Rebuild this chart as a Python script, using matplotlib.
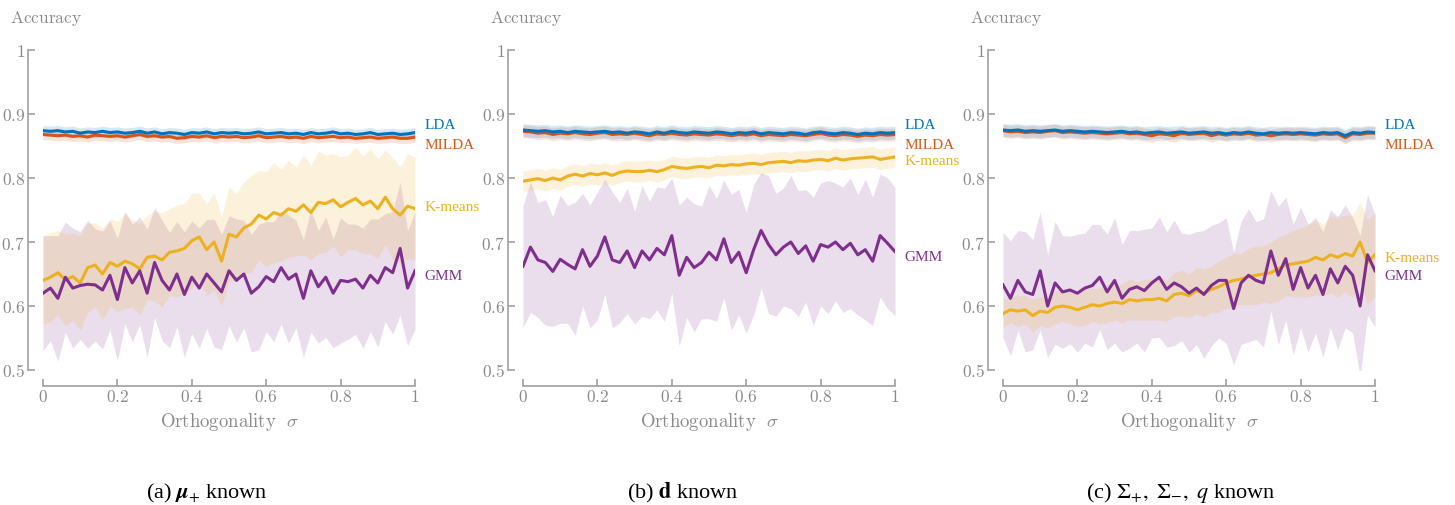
import numpy as np
import matplotlib
matplotlib.use("Agg")
import matplotlib.pyplot as plt

plt.rcParams['font.family'] = ['Liberation Serif', 'DejaVu Serif']
plt.rcParams['mathtext.fontset'] = 'cm'

# ---- data (51 points, sigma step 0.02) ----
lda_a = [0.874, 0.873, 0.874, 0.872, 0.873, 0.870, 0.872, 0.871, 0.873, 0.871,
         0.872, 0.870, 0.871, 0.873, 0.870, 0.872, 0.869, 0.871, 0.870, 0.868,
         0.871, 0.870, 0.872, 0.869, 0.871, 0.870, 0.871, 0.869, 0.870, 0.872,
         0.869, 0.870, 0.871, 0.869, 0.870, 0.868, 0.871, 0.869, 0.870, 0.872,
         0.869, 0.870, 0.868, 0.869, 0.871, 0.868, 0.869, 0.870, 0.868, 0.869,
         0.871]
milda_a = [0.868, 0.867, 0.866, 0.867, 0.865, 0.866, 0.864, 0.867, 0.866, 0.865,
           0.866, 0.864, 0.866, 0.868, 0.865, 0.866, 0.864, 0.865, 0.862, 0.863,
           0.865, 0.864, 0.866, 0.863, 0.865, 0.864, 0.865, 0.863, 0.864, 0.866,
           0.863, 0.864, 0.865, 0.863, 0.864, 0.862, 0.865, 0.863, 0.864, 0.865,
           0.863, 0.864, 0.862, 0.863, 0.864, 0.862, 0.863, 0.864, 0.862, 0.862,
           0.864]
kmeans_a = [0.640, 0.645, 0.652, 0.641, 0.646, 0.636, 0.660, 0.664, 0.650, 0.668,
            0.662, 0.670, 0.666, 0.658, 0.676, 0.678, 0.672, 0.684, 0.686, 0.690,
            0.702, 0.708, 0.688, 0.700, 0.670, 0.712, 0.708, 0.722, 0.728, 0.742,
            0.736, 0.746, 0.742, 0.752, 0.748, 0.758, 0.746, 0.762, 0.760, 0.766,
            0.755, 0.762, 0.768, 0.758, 0.764, 0.752, 0.770, 0.752, 0.742, 0.756,
            0.752]
kmeans_a_sd = [0.068, 0.070, 0.066, 0.072, 0.068, 0.074, 0.070, 0.066, 0.072, 0.068,
               0.070, 0.074, 0.068, 0.072, 0.066, 0.070, 0.074, 0.068, 0.072, 0.070,
               0.074, 0.068, 0.072, 0.076, 0.070, 0.074, 0.068, 0.072, 0.076, 0.070,
               0.074, 0.078, 0.072, 0.076, 0.070, 0.078, 0.074, 0.080, 0.076, 0.072,
               0.078, 0.074, 0.080, 0.076, 0.082, 0.078, 0.074, 0.080, 0.076, 0.082,
               0.080]
gmm_a = [0.620, 0.628, 0.612, 0.645, 0.628, 0.632, 0.634, 0.633, 0.625, 0.648,
         0.610, 0.660, 0.636, 0.655, 0.620, 0.668, 0.640, 0.625, 0.650, 0.618,
         0.645, 0.628, 0.650, 0.636, 0.622, 0.655, 0.640, 0.650, 0.620, 0.630,
         0.646, 0.638, 0.660, 0.642, 0.650, 0.612, 0.655, 0.630, 0.645, 0.620,
         0.640, 0.638, 0.642, 0.628, 0.648, 0.636, 0.660, 0.652, 0.690, 0.628,
         0.655]
gmm_a_sd = [0.090, 0.082, 0.098, 0.086, 0.094, 0.084, 0.100, 0.088, 0.092, 0.085,
            0.096, 0.088, 0.092, 0.084, 0.100, 0.086, 0.094, 0.090, 0.082, 0.098,
            0.088, 0.094, 0.085, 0.100, 0.090, 0.086, 0.096, 0.084, 0.092, 0.098,
            0.086, 0.094, 0.088, 0.100, 0.084, 0.092, 0.096, 0.088, 0.094, 0.085,
            0.098, 0.090, 0.086, 0.094, 0.088, 0.100, 0.084, 0.096, 0.104, 0.090,
            0.092]

lda_b = [0.875, 0.874, 0.873, 0.874, 0.872, 0.873, 0.871, 0.873, 0.872, 0.871,
         0.872, 0.873, 0.871, 0.872, 0.870, 0.872, 0.871, 0.869, 0.872, 0.870,
         0.873, 0.871, 0.870, 0.872, 0.871, 0.870, 0.872, 0.871, 0.869, 0.871,
         0.870, 0.872, 0.869, 0.871, 0.870, 0.869, 0.871, 0.870, 0.868, 0.871,
         0.872, 0.870, 0.869, 0.871, 0.870, 0.868, 0.870, 0.869, 0.871, 0.870,
         0.871]
milda_b = [0.873, 0.872, 0.870, 0.871, 0.868, 0.870, 0.869, 0.871, 0.869, 0.868,
           0.870, 0.871, 0.868, 0.869, 0.868, 0.870, 0.868, 0.866, 0.869, 0.868,
           0.870, 0.868, 0.867, 0.869, 0.868, 0.867, 0.869, 0.868, 0.866, 0.868,
           0.867, 0.869, 0.866, 0.868, 0.867, 0.866, 0.868, 0.867, 0.866, 0.868,
           0.870, 0.867, 0.866, 0.868, 0.867, 0.865, 0.867, 0.866, 0.868, 0.867,
           0.868]
kmeans_b = [0.795, 0.797, 0.799, 0.796, 0.800, 0.797, 0.803, 0.806, 0.803, 0.807,
            0.805, 0.808, 0.804, 0.809, 0.811, 0.810, 0.810, 0.812, 0.810, 0.813,
            0.818, 0.816, 0.815, 0.817, 0.818, 0.816, 0.820, 0.819, 0.821, 0.820,
            0.822, 0.823, 0.821, 0.824, 0.825, 0.826, 0.824, 0.827, 0.826, 0.828,
            0.829, 0.827, 0.831, 0.828, 0.830, 0.831, 0.832, 0.833, 0.829, 0.831,
            0.833]
kmeans_b_sd = [0.016] * 51
gmm_b = [0.662, 0.692, 0.672, 0.668, 0.654, 0.673, 0.665, 0.658, 0.688, 0.662,
         0.678, 0.708, 0.672, 0.668, 0.686, 0.660, 0.686, 0.672, 0.690, 0.680,
         0.710, 0.648, 0.676, 0.660, 0.668, 0.684, 0.672, 0.705, 0.668, 0.684,
         0.652, 0.688, 0.718, 0.696, 0.680, 0.692, 0.700, 0.682, 0.694, 0.670,
         0.696, 0.692, 0.700, 0.688, 0.698, 0.680, 0.688, 0.670, 0.710, 0.698,
         0.685]
gmm_b_sd = [0.095, 0.102, 0.090, 0.098, 0.086, 0.100, 0.092, 0.104, 0.088, 0.096,
            0.100, 0.090, 0.106, 0.094, 0.098, 0.088, 0.102, 0.092, 0.096, 0.104,
            0.090, 0.110, 0.094, 0.100, 0.088, 0.104, 0.096, 0.092, 0.106, 0.098,
            0.094, 0.102, 0.090, 0.108, 0.096, 0.092, 0.104, 0.098, 0.088, 0.100,
            0.096, 0.104, 0.092, 0.098, 0.102, 0.094, 0.110, 0.100, 0.096, 0.102,
            0.100]

lda_c = [0.875, 0.874, 0.875, 0.873, 0.874, 0.873, 0.874, 0.875, 0.873, 0.874,
         0.873, 0.872, 0.873, 0.872, 0.871, 0.872, 0.873, 0.871, 0.872, 0.870,
         0.871, 0.872, 0.870, 0.871, 0.872, 0.870, 0.871, 0.872, 0.870, 0.871,
         0.869, 0.871, 0.870, 0.872, 0.870, 0.869, 0.871, 0.870, 0.871, 0.870,
         0.871, 0.870, 0.869, 0.871, 0.870, 0.871, 0.866, 0.871, 0.870, 0.872,
         0.871]
milda_c = [0.874, 0.872, 0.873, 0.871, 0.872, 0.871, 0.873, 0.874, 0.871, 0.872,
           0.871, 0.870, 0.871, 0.870, 0.869, 0.870, 0.871, 0.869, 0.870, 0.868,
           0.866, 0.869, 0.868, 0.866, 0.870, 0.868, 0.869, 0.870, 0.866, 0.869,
           0.867, 0.869, 0.868, 0.870, 0.867, 0.868, 0.866, 0.868, 0.869, 0.868,
           0.869, 0.868, 0.867, 0.869, 0.868, 0.869, 0.863, 0.869, 0.868, 0.870,
           0.870]
kmeans_c = [0.588, 0.594, 0.592, 0.594, 0.585, 0.592, 0.590, 0.598, 0.600, 0.598,
            0.594, 0.598, 0.602, 0.600, 0.604, 0.606, 0.604, 0.610, 0.608, 0.610,
            0.610, 0.612, 0.608, 0.618, 0.620, 0.616, 0.624, 0.620, 0.626, 0.630,
            0.636, 0.640, 0.642, 0.646, 0.648, 0.650, 0.652, 0.658, 0.664, 0.666,
            0.668, 0.670, 0.676, 0.672, 0.680, 0.676, 0.682, 0.678, 0.700, 0.668,
            0.680]
kmeans_c_sd = [0.022, 0.020, 0.024, 0.022, 0.026, 0.022, 0.024, 0.026, 0.024, 0.026,
               0.026, 0.028, 0.026, 0.028, 0.030, 0.028, 0.030, 0.032, 0.030, 0.032,
               0.032, 0.034, 0.032, 0.034, 0.036, 0.034, 0.036, 0.038, 0.036, 0.040,
               0.040, 0.042, 0.040, 0.044, 0.046, 0.044, 0.048, 0.050, 0.048, 0.052,
               0.054, 0.056, 0.058, 0.056, 0.060, 0.062, 0.060, 0.064, 0.062, 0.066,
               0.066]
gmm_c = [0.633, 0.612, 0.640, 0.622, 0.618, 0.655, 0.600, 0.636, 0.622, 0.625,
         0.620, 0.628, 0.632, 0.645, 0.622, 0.640, 0.612, 0.626, 0.630, 0.624,
         0.636, 0.645, 0.626, 0.636, 0.630, 0.620, 0.628, 0.618, 0.632, 0.640,
         0.640, 0.596, 0.636, 0.648, 0.640, 0.636, 0.686, 0.648, 0.674, 0.626,
         0.660, 0.628, 0.648, 0.618, 0.658, 0.636, 0.662, 0.648, 0.600, 0.680,
         0.655]
gmm_c_sd = [0.082, 0.090, 0.078, 0.094, 0.086, 0.092, 0.080, 0.096, 0.088, 0.084,
            0.092, 0.086, 0.096, 0.082, 0.090, 0.098, 0.084, 0.092, 0.088, 0.096,
            0.086, 0.094, 0.090, 0.098, 0.084, 0.092, 0.088, 0.100, 0.094, 0.090,
            0.098, 0.088, 0.096, 0.104, 0.092, 0.100, 0.094, 0.108, 0.096, 0.102,
            0.094, 0.100, 0.090, 0.098, 0.092, 0.104, 0.096, 0.090, 0.110, 0.094,
            0.088]

lin_sd = [0.008, 0.010, 0.010]   # band half-width of LDA / MILDA per panel

xticks = [0, 0.2, 0.4, 0.6, 0.8, 1]
xtick_labels = ['0', '0.2', '0.4', '0.6', '0.8', '1']
yticks = [0.5, 0.6, 0.7, 0.8, 0.9, 1]
ytick_labels = ['0.5', '0.6', '0.7', '0.8', '0.9', '1']

clrs = {'LDA': '#0072BD', 'MILDA': '#D95319', 'K-means': '#EDB120', 'GMM': '#7E2F8E'}

panels = [
    {'LDA': lda_a, 'MILDA': milda_a, 'K-means': (kmeans_a, kmeans_a_sd), 'GMM': (gmm_a, gmm_a_sd)},
    {'LDA': lda_b, 'MILDA': milda_b, 'K-means': (kmeans_b, kmeans_b_sd), 'GMM': (gmm_b, gmm_b_sd)},
    {'LDA': lda_c, 'MILDA': milda_c, 'K-means': (kmeans_c, kmeans_c_sd), 'GMM': (gmm_c, gmm_c_sd)},
]
captions = [r'(a) $\mathbfit{\mu}_{+}$ known',
            r'(b) $\mathbf{d}$ known',
            r'(c) $\Sigma_{+},\ \Sigma_{-},\ q$ known']
# y position of the right-hand series labels
label_y = [{'LDA': 0.883, 'MILDA': 0.853, 'K-means': 0.756, 'GMM': 0.648},
           {'LDA': 0.883, 'MILDA': 0.853, 'K-means': 0.827, 'GMM': 0.677},
           {'LDA': 0.883, 'MILDA': 0.853, 'K-means': 0.675, 'GMM': 0.647}]

grey = '#8a8a8a'
px = 72 / 100   # points per pixel
fig = plt.figure(figsize=(14.55, 5.06), dpi=100)
lefts = [43, 523, 1003]
cap_x = [207, 683, 1181]

for k in range(3):
    ax = fig.add_axes([lefts[k] / 1455, 135 / 506, 372 / 1455, 320 / 506])
    d = panels[k]
    for nm in ['GMM', 'K-means', 'MILDA', 'LDA']:
        if nm in ('LDA', 'MILDA'):
            m = np.array(d[nm])
            sd = lin_sd[k]
        else:
            m = np.array(d[nm][0])
            sd = np.array(d[nm][1])
        x = np.linspace(0, 1, len(m))
        ax.fill_between(x, m - sd, m + sd, color=clrs[nm], alpha=0.16, lw=0)
    for nm in ['K-means', 'GMM', 'MILDA', 'LDA']:
        m = np.array(d[nm]) if nm in ('LDA', 'MILDA') else np.array(d[nm][0])
        x = np.linspace(0, 1, len(m))
        ax.plot(x, m, color=clrs[nm], lw=2.2)
        ax.text(1.026, label_y[k][nm], nm, color=clrs[nm], fontsize=11,
                va='center', ha='left', transform=ax.get_yaxis_transform())

    ax.set_xlim(0, 1)
    ax.set_ylim(0.5, 1)
    ax.set_xticks(xticks)
    ax.set_xticklabels(['$%s$' % t for t in xtick_labels])
    ax.set_yticks(yticks)
    ax.set_yticklabels(['$%s$' % t for t in ytick_labels])
    for s in ['top', 'right']:
        ax.spines[s].set_visible(False)
    ax.spines['left'].set_position(('outward', 15 * px))
    ax.spines['bottom'].set_position(('outward', 16 * px))
    for s in ['left', 'bottom']:
        ax.spines[s].set_color('#a0a0a0')
        ax.spines[s].set_linewidth(1.2)
    ax.tick_params(direction='in', length=5, width=1.2, color='#a0a0a0',
                   labelcolor=grey, labelsize=12.5, pad=2)
    ax.set_xlabel(r'$\mathrm{Orthogonality}\ \ \sigma$', color=grey, fontsize=13.5, labelpad=4)
    fig.text((lefts[k] - 33) / 1455, 1 - 19 / 506, r'$\mathrm{Accuracy}$', color=grey,
             fontsize=12.5, va='center', ha='left')
    fig.text(cap_x[k] / 1455, 1 - 493 / 506, captions[k], color='black',
             fontsize=16, va='center', ha='center', math_fontfamily='stix')

fig.savefig('out.png', dpi=100)
